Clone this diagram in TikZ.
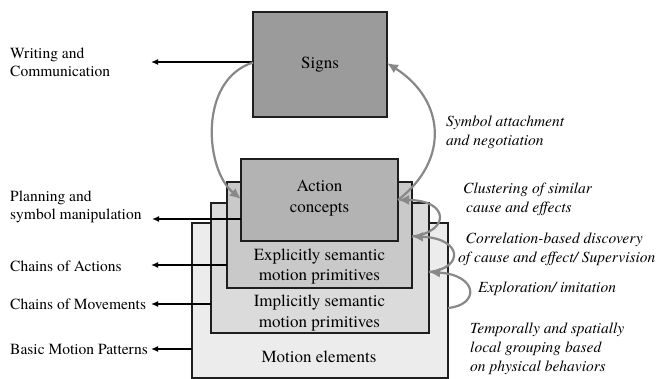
\documentclass[tikz,border=0pt]{standalone}
\usepackage{fontspec}
\setmainfont{texgyretermes}[Extension=.otf, UprightFont=*-regular, ItalicFont=*-italic, BoldFont=*-bold, BoldItalicFont=*-bolditalic]
\usetikzlibrary{arrows.meta}
\definecolor{csigns}{HTML}{9B9B9B}
\definecolor{caction}{HTML}{B3B3B3}
\definecolor{cexpl}{HTML}{C9C9C9}
\definecolor{cimpl}{HTML}{DBDBDB}
\definecolor{cmot}{HTML}{ECECEC}
\definecolor{cborder}{HTML}{1E1E1E}
\definecolor{carc}{HTML}{888888}
\tikzset{
  box/.style={draw=cborder, line width=1.3pt, inner sep=0pt, outer sep=0pt, anchor=north west},
  boxtext/.style={font=\fontsize{17}{20.5}\selectfont, align=center, inner sep=0pt},
  leftlabel/.style={font=\fontsize{15.5}{18.5}\selectfont, align=left, anchor=west, inner sep=0pt},
  rightlabel/.style={font=\fontsize{15.5}{19}\selectfont\itshape, align=left, anchor=west, inner sep=0pt},
  larrow/.style={line width=1.5pt, -{Latex[length=7pt,width=6pt]}},
  garrow/.style={draw=carc, line width=2.2pt, -{Latex[length=11pt,width=10pt]}, color=carc},
}
\begin{document}
\begin{tikzpicture}[x=1pt,y=-1pt]
\useasboundingbox (0,0) rectangle (665,379);

% boxes
\node[box, fill=cmot, minimum width=256pt, minimum height=155pt] (motion) at (192,223) {};
\node[box, fill=cimpl, minimum width=218pt, minimum height=130pt] (impl) at (211,203) {};
\node[box, fill=cexpl, minimum width=185pt, minimum height=106pt] (expl) at (227,182) {};
\node[box, fill=caction, minimum width=157pt, minimum height=82pt] (action) at (241,159) {};
\node[box, fill=csigns, minimum width=134pt, minimum height=105pt] (signs) at (253,12) {};

% box texts
\node[boxtext] (tsigns) at (320,65) {Signs};
\node[boxtext] (taction) at (319.5,198) {Action\\concepts};
\node[boxtext] (texpl) at (319.5,266.5) {Explicitly semantic\\motion primitives};
\node[boxtext] (timpl) at (319.5,313) {Implicitly semantic\\motion primitives};
\node[boxtext] (tmot) at (319,356.5) {Motion elements};

% left labels
\node[leftlabel] (lwrite) at (10,62.5) {Writing and\\Communication};
\node[leftlabel] (lplan) at (10,207) {Planning and\\symbol manipulation};
\node[leftlabel] (lchainact) at (10,266) {Chains of Actions};
\node[leftlabel] (lchainmov) at (10,304.5) {Chains of Movements};
\node[leftlabel] (lbasic) at (10,349) {Basic Motion Patterns};

% left arrow ends
\coordinate (ewrite) at (151,62);
\coordinate (eplan) at (152,219);
\coordinate (echainact) at (151,265);
\coordinate (echainmov) at (151,304);
\coordinate (ebasic) at (151,349);

\draw[larrow] (signs.west |- ewrite) -- (ewrite);
\draw[larrow] (action.west |- eplan) -- (eplan);
\draw[larrow] (expl.west |- echainact) -- (echainact);
\draw[larrow] (impl.west |- echainmov) -- (echainmov);
\draw[larrow] (motion.west |- ebasic) -- (ebasic);

% right labels
\node[rightlabel] (rsym) at (446,132) {Symbol attachment\\and negotiation};
\node[rightlabel] (rclus) at (463,199) {Clustering of similar\\\hspace*{3pt}cause and effects};
\node[rightlabel] (rcorr) at (458,249) {\hspace*{7.5pt}Correlation-based discovery\\of cause and effect/ Supervision};
\node[rightlabel] (rexpl) at (478,288.5) {Exploration/ imitation};
\node[rightlabel] (rtemp) at (470,348.5) {Temporally and spatially\\local grouping based\\on physical behaviors};

% gray arrows
\coordinate (s1) at (motion.east |- 0,308);
\coordinate (p1) at (impl.east |- 0,272);
\coordinate (p2) at (expl.east |- 0,236.5);
\coordinate (p3) at (action.east |- 0,200);
\coordinate (p4) at (signs.east |- 0,63);
\coordinate (q1) at (signs.west |- 0,62.5);
\coordinate (q2) at (action.west |- 0,199);

\draw[garrow] (s1) .. controls (480,305) and (478,275) .. (p1);
\draw[garrow] (p1) .. controls (465,268) and (462,238) .. (p2);
\draw[garrow] (p2) .. controls (450,232) and (450,200) .. (p3);
\draw[garrow] (p3) .. controls (450,160) and (445,100) .. (p4);
\draw[garrow] (q1) .. controls (198,80) and (205,170) .. (q2);
\end{tikzpicture}
\end{document}
